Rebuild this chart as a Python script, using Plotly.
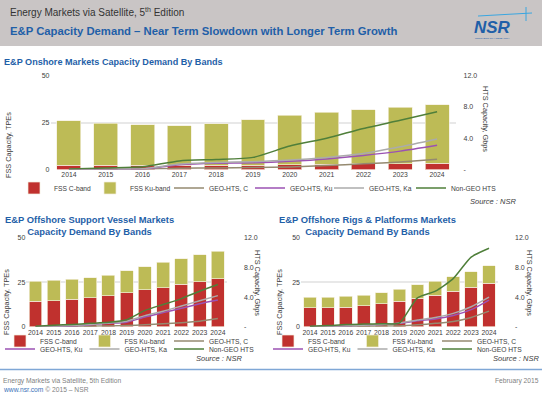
import plotly.graph_objects as go

W, H = 542, 397
def px(x): return x / W
def py(y): return 1 - y / H

years = ['2014', '2015', '2016', '2017', '2018', '2019', '2020', '2021', '2022', '2023', '2024']
series_names = ['FSS C-band', 'FSS Ku-band', 'GEO-HTS, C', 'GEO-HTS, Ku', 'GEO-HTS, Ka', 'Non-GEO HTS']

# Onshore
on_c_band = [2.2, 2.2, 2.2, 2.2, 2.3, 2.4, 2.6, 2.8, 3.0, 3.1, 3.3]
on_total = [25.9, 24.6, 23.9, 23.2, 24.3, 26.6, 28.9, 30.6, 31.9, 33.1, 34.6]
on_ku_band = [round(t - c, 2) for t, c in zip(on_total, on_c_band)]
on_hts_c = [0.0, 0.0, 0.03, 0.15, 0.2, 0.25, 0.33, 0.5, 0.72, 0.97, 1.3]
on_hts_ku = [0.0, 0.0, 0.05, 0.6, 0.8, 0.85, 1.05, 1.35, 1.8, 2.35, 3.1]
on_hts_ka = [0.0, 0.05, 0.1, 0.7, 0.9, 1.0, 1.2, 1.55, 2.05, 2.9, 3.9]
on_nongeo = [0.05, 0.2, 0.35, 1.1, 1.28, 1.55, 3.0, 4.0, 5.25, 6.3, 7.4]

# Offshore Support Vessels
osv_c_band = [14.3, 14.6, 15.4, 16.3, 17.5, 19.2, 20.7, 22.0, 23.9, 25.3, 26.9]
osv_total = [25.7, 26.1, 26.7, 27.6, 29.1, 31.5, 33.8, 36.2, 38.3, 40.4, 42.4]
osv_ku_band = [round(t - c, 2) for t, c in zip(osv_total, osv_c_band)]
osv_hts_c = [0.0, 0.0, 0.03, 0.06, 0.1, 0.15, 0.25, 0.4, 0.55, 0.75, 1.1]
osv_hts_ku = [0.0, 0.05, 0.1, 0.25, 0.45, 0.6, 1.3, 1.9, 2.5, 3.1, 3.6]
osv_hts_ka = [0.0, 0.05, 0.15, 0.3, 0.5, 0.75, 1.5, 2.1, 2.8, 3.5, 4.2]
osv_nongeo = [0.05, 0.2, 0.3, 0.45, 0.6, 0.95, 2.2, 3.0, 3.8, 4.8, 5.7]

# Offshore Rigs & Platforms
rig_c_band = [10.8, 10.8, 11.0, 11.7, 12.8, 14.3, 16.0, 17.8, 19.9, 22.2, 24.4]
rig_total = [16.7, 16.7, 17.1, 17.8, 19.0, 21.0, 23.5, 25.7, 28.2, 31.0, 34.3]
rig_ku_band = [round(t - c, 2) for t, c in zip(rig_total, rig_c_band)]
rig_hts_c = [0.0, 0.0, 0.02, 0.05, 0.08, 0.1, 0.25, 0.45, 0.7, 1.25, 2.1]
rig_hts_ku = [0.0, 0.05, 0.1, 0.2, 0.3, 0.45, 0.8, 1.05, 1.5, 2.3, 3.6]
rig_hts_ka = [0.0, 0.05, 0.1, 0.2, 0.3, 0.5, 0.9, 1.25, 1.8, 2.7, 4.0]
rig_nongeo = [0.05, 0.15, 0.3, 0.35, 0.4, 0.5, 3.9, 4.8, 6.5, 9.4, 10.6]

left_ticks = [0, 25, 50]
right_ticks = [0, 4, 8, 12]
right_ticktext = ['-', '4.0', '8.0', '12.0']

RED = '#C0312E'
OLIVE = '#BDBB56'
LINE_COLORS = ['#958A70', '#9B52B3', '#ABABAB', '#4F7F3A']
BLUE = '#1F5FA8'
FONT = 'Liberation Sans'
TXT = '#404040'

fig = go.Figure()

def add_chart(xa, ya, ya2, c_band, ku_band, hts_c, hts_ku, hts_ka, nongeo, width, legends):
    vals = [hts_c, hts_ku, hts_ka, nongeo]
    fig.add_trace(go.Bar(x=years, y=c_band, name=series_names[0], marker=dict(color=RED, line=dict(color='#F3EEDC', width=0.7)),
                         width=width, xaxis=xa, yaxis=ya, legend=legends[0]))
    fig.add_trace(go.Bar(x=years, y=ku_band, name=series_names[1], marker=dict(color=OLIVE, line=dict(color='#F3EEDC', width=0.7)),
                         width=width, xaxis=xa, yaxis=ya, legend=legends[1]))
    for i, v in enumerate(vals):
        fig.add_trace(go.Scatter(x=years, y=v, name=series_names[2 + i], mode='lines',
                                 line=dict(color=LINE_COLORS[i], width=1.5, shape='spline', smoothing=0.6),
                                 xaxis=xa, yaxis=ya2, legend=legends[2 + i]))

top_legends = ['legend', 'legend6', 'legend7', 'legend8', 'legend9', 'legend10']
add_chart('x', 'y', 'y2', on_c_band, on_ku_band, on_hts_c, on_hts_ku, on_hts_ka, on_nongeo, 0.65, top_legends)
add_chart('x2', 'y3', 'y4', osv_c_band, osv_ku_band, osv_hts_c, osv_hts_ku, osv_hts_ka, osv_nongeo, 0.71,
          ['legend2'] * 3 + ['legend3'] * 3)
add_chart('x3', 'y5', 'y6', rig_c_band, rig_ku_band, rig_hts_c, rig_hts_ku, rig_hts_ka, rig_nongeo, 0.71,
          ['legend4'] * 3 + ['legend5'] * 3)

xcommon = dict(type='category', showgrid=False, showline=False, ticks='', zeroline=False, tickangle=0,
               tickfont=dict(size=6.8, color=TXT, family=FONT), fixedrange=True)
yl = dict(range=[0, 50], tickvals=left_ticks, showgrid=True, gridcolor='#E8E8E8', gridwidth=1.5,
          zeroline=False, showline=False, ticks='', tickfont=dict(size=7, color=TXT, family=FONT))
yr = dict(range=[0, 12], tickvals=right_ticks, ticktext=right_ticktext, showgrid=False, zeroline=False,
          showline=False, ticks='', side='right', tickfont=dict(size=7, color=TXT, family=FONT))

top_y = [py(169.5), py(75.7)]
bot_y = [py(326.7), py(237.9)]

fig.update_layout(
    xaxis=dict(xcommon, domain=[px(50.5), px(455.5)], anchor='y'),
    yaxis=dict(yl, domain=top_y, anchor='x'),
    yaxis2=dict(yr, overlaying='y', anchor='x', ticklabelstandoff=7),
    xaxis2=dict(xcommon, domain=[px(26.4), px(227)], anchor='y3'),
    yaxis3=dict(yl, domain=bot_y, anchor='x2'),
    yaxis4=dict(yr, overlaying='y3', anchor='x2', ticklabelstandoff=16),
    xaxis3=dict(xcommon, domain=[px(301), px(498)], anchor='y5'),
    yaxis5=dict(yl, domain=bot_y, anchor='x3'),
    yaxis6=dict(yr, overlaying='y5', anchor='x3', ticklabelstandoff=16),
)

leg_common = dict(orientation='h', yanchor='middle', xanchor='left', bgcolor='rgba(0,0,0,0)',
                  font=dict(size=6.7, color=TXT, family=FONT), entrywidthmode='pixels',
                  traceorder='normal', itemwidth=30, tracegroupgap=0)
top_text_x = [54, 130, 209, 290, 369, 451]
legend_layout = {name: dict(leg_common, x=px(tx - 40), y=py(188), entrywidth=50)
                 for name, tx in zip(top_legends, top_text_x)}
legend_layout.update(
    legend2=dict(leg_common, x=0, y=py(341), entrywidth=39.5),
    legend3=dict(leg_common, x=0, y=py(349), entrywidth=39.5),
    legend4=dict(leg_common, x=px(268), y=py(341), entrywidth=39.5),
    legend5=dict(leg_common, x=px(268), y=py(349), entrywidth=39.5),
)
fig.update_layout(**legend_layout)

fig.update_layout(
    width=W, height=H, margin=dict(l=0, r=0, t=0, b=0, autoexpand=False),
    paper_bgcolor='white', plot_bgcolor='white', barmode='stack',
    font=dict(family=FONT, color=TXT), showlegend=True,
)

shapes = [
    dict(type='rect', xref='paper', yref='paper', x0=0, x1=1, y0=py(46), y1=1,
         fillcolor='#C9C5C5', line=dict(width=0), layer='below'),
    dict(type='line', xref='paper', yref='paper', x0=px(478), x1=px(532), y0=py(16), y1=py(13),
         line=dict(color='#3AA6E0', width=1)),
    dict(type='line', xref='paper', yref='paper', x0=px(526), x1=px(526), y0=py(7), y1=py(21),
         line=dict(color='#3AA6E0', width=1)),
    dict(type='line', xref='paper', yref='paper', x0=0, x1=1, y0=py(369.5), y1=py(369.5),
         line=dict(color='#7FA7D6', width=1.5)),
]
fig.update_layout(shapes=shapes)

def ann(text, x, y, size, color=TXT, xanchor='left', yanchor='middle', align='left', textangle=0):
    return dict(text=text, x=px(x), y=py(y), xref='paper', yref='paper', showarrow=False,
                xanchor=xanchor, yanchor=yanchor, align=align, textangle=textangle,
                font=dict(size=size, color=color, family=FONT))

anns = [
    ann('Energy Markets via Satellite, 5<sup>th</sup> Edition', 8, 12, 10, '#333333'),
    ann('<b>E&P Capacity Demand – Near Term Slowdown with Longer Term Growth</b>', 8, 31, 11.3, BLUE),
    ann('<b><i>NSR</i></b>', 492, 27, 17, BLUE, xanchor='center'),
    ann('NORTHERN SKY RESEARCH', 492, 38, 2.5, BLUE, xanchor='center'),
    ann('<b>E&P Onshore Markets Capacity Demand By Bands</b>', 2, 62, 9.1, BLUE),
    ann('<b>E&P Offshore Support Vessel Markets<br>Capacity Demand By Bands</b>', 89, 225, 9.4, BLUE,
        xanchor='center', align='center'),
    ann('<b>E&P Offshore Rigs & Platforms Markets<br>Capacity Demand By Bands</b>', 367, 225, 9.4, BLUE,
        xanchor='center', align='center'),
    ann('FSS Capacity, TPEs', 8, 145, 7.3, TXT, xanchor='center', textangle=-90),
    ann('HTS Capacity, Gbps', 486, 119, 7.3, TXT, xanchor='center', textangle=90),
    ann('FSS Capacity, TPEs', 6, 302, 7.3, TXT, xanchor='center', textangle=-90),
    ann('HTS Capacity, Gbps', 258, 283, 7.3, TXT, xanchor='center', textangle=90),
    ann('FSS Capacity, TPEs', 279, 302, 7.3, TXT, xanchor='center', textangle=-90),
    ann('HTS Capacity, Gbps', 530, 283, 7.3, TXT, xanchor='center', textangle=90),
    ann('<i>Source : NSR</i>', 518, 201, 7.5, TXT, xanchor='right'),
    ann('<i>Source : NSR</i>', 244, 358, 7.5, TXT, xanchor='right'),
    ann('<i>Source : NSR</i>', 541, 358, 7.5, TXT, xanchor='right'),
    ann('Energy Markets via Satellite, 5th Edition', 1, 381, 6.7, '#7F7F7F'),
    ann('<span style="color:#3B73B9">www.nsr.com</span> © 2015 – NSR', 1, 389.5, 6.7, '#7F7F7F'),
    ann('February 2015', 541, 381, 6.7, '#7F7F7F', xanchor='right'),
]
fig.update_layout(annotations=anns)

fig.write_html('out.html', config={'displayModeBar': False},
               post_script="document.body.style.margin='0px';document.body.style.overflow='hidden';")
